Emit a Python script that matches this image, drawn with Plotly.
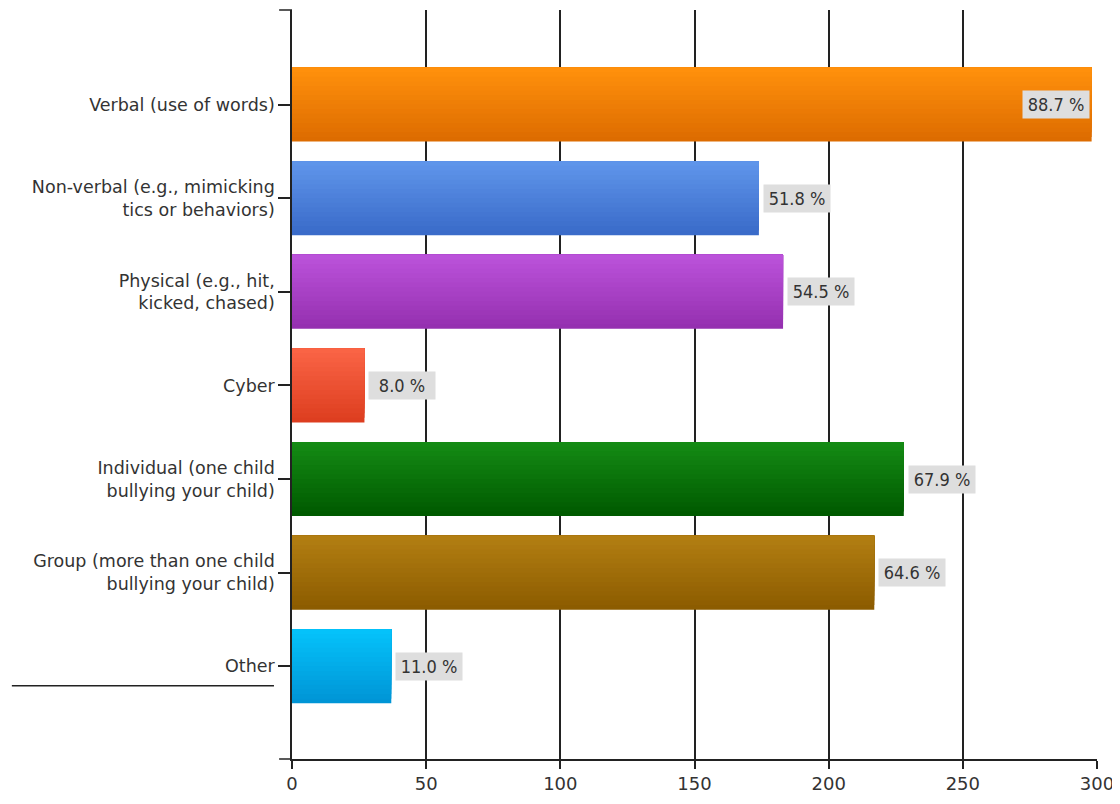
import plotly.graph_objects as go

categories = [
    "Verbal (use of words)",
    "Non-verbal (e.g., mimicking<br>tics or behaviors)",
    "Physical (e.g., hit,<br>kicked, chased)",
    "Cyber",
    "Individual (one child<br>bullying your child)",
    "Group (more than one child<br>bullying your child)",
    "Other",
]
counts = [298, 174, 183, 27, 228, 217, 37]
percent_labels = ["88.7 %", "51.8 %", "54.5 %", "8.0 %", "67.9 %", "64.6 %", "11.0 %"]
top_colors = ["#FF900C", "#5F95EA", "#BB52DA", "#FA6445", "#148A14", "#B27E12", "#05C2FA"]
bottom_colors = ["#DD6C00", "#3A6BC9", "#9530B0", "#DD3E20", "#005A00", "#8C5C00", "#0095D6"]
x_ticks = [0, 50, 100, 150, 200, 250, 300]


def hex_to_rgb(h):
    h = h.lstrip("#")
    return tuple(int(h[i:i + 2], 16) for i in (0, 2, 4))


def mix(c1, c2, t):
    a, b = hex_to_rgb(c1), hex_to_rgb(c2)
    return "rgb(%d,%d,%d)" % tuple(round(a[i] + (b[i] - a[i]) * t) for i in range(3))


BAR_W = 0.79
N_LAYERS = 16
fig = go.Figure()
for k in range(N_LAYERS):
    frac = 1 - k / N_LAYERS
    t = k / (N_LAYERS - 1)
    fig.add_trace(go.Bar(
        y=categories, x=counts, orientation="h",
        width=BAR_W * frac, offset=-BAR_W / 2,
        marker=dict(color=[mix(b, tp, t) for b, tp in zip(bottom_colors, top_colors)],
                    line=dict(width=0)),
        hoverinfo="skip", showlegend=False,
    ))

LABEL_FONT = "Liberation Sans Narrow, DejaVu Sans Condensed, Arial Narrow, sans-serif"
for i, (cat, v, lab) in enumerate(zip(categories, counts, percent_labels)):
    inside = v > 280
    fig.add_annotation(
        x=v, y=cat, text=lab, showarrow=False,
        xanchor="right" if inside else "left", yanchor="middle",
        xshift=-2 if inside else 4,
        bgcolor="#DEDEDE", borderpad=3, width=60,
        font=dict(family=LABEL_FONT, size=18, color="#333333"),
    )

# axis end ticks and the stray rule seen in the reference
fig.add_shape(type="line", xref="paper", yref="paper", x0=-0.016, x1=0, y0=1, y1=1,
              line=dict(color="#222222", width=1.5))
fig.add_shape(type="line", xref="paper", yref="paper", x0=-0.016, x1=0, y0=0, y1=0,
              line=dict(color="#222222", width=1.5))
fig.add_shape(type="line", xref="paper", yref="paper", x0=-0.348, x1=-0.0224, y0=0.0978, y1=0.0978,
              line=dict(color="#222222", width=1.5))

fig.update_layout(
    width=1112, height=788,
    margin=dict(l=284, r=23, t=2, b=29),
    paper_bgcolor="white", plot_bgcolor="white",
    barmode="overlay",
    font=dict(family="DejaVu Sans, sans-serif", size=17.5, color="#333333"),
    xaxis=dict(
        range=[0, 300], tickvals=x_ticks, ticktext=[str(t) for t in x_ticks],
        showgrid=True, gridcolor="#222222", gridwidth=1.5,
        zeroline=False, showline=True, linecolor="#222222", linewidth=1.5,
        ticks="outside", ticklen=8, tickcolor="#222222", tickwidth=1.5,
        tickfont=dict(size=18, color="#333333"),
    ),
    yaxis=dict(
        type="category", categoryorder="array", categoryarray=categories,
        range=[6.99, -1.01],
        showgrid=False, zeroline=False, showline=True, linecolor="#222222", linewidth=1.5,
        ticks="outside", ticklen=12, tickcolor="#222222", tickwidth=1.5,
        tickfont=dict(size=17.5, color="#333333"),
    ),
)

fig.write_html("out.html")
